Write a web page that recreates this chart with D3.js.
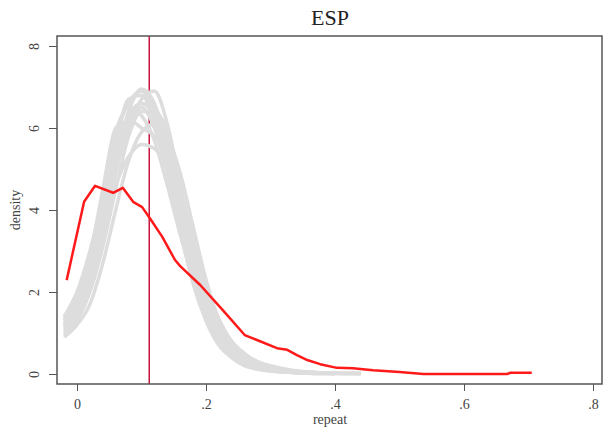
<!DOCTYPE html>
<html>
<head>
<meta charset="utf-8">
<script src="https://cdn.jsdelivr.net/npm/d3@7"></script>
<style>
  body { margin: 0; background: #fff; }
  text { font-family: "Liberation Serif", "DejaVu Serif", serif; }
</style>
</head>
<body>
<svg width="613" height="435"></svg>
<script>
// tick values
var xTicks = [0, 0.2, 0.4, 0.6, 0.8];
var yTicks = [0, 2, 4, 6, 8];

// observed value (vertical line)
var observed = 0.112;

// simulated densities, all read on one x grid
var simX = [-0.02, 0, 0.02, 0.04, 0.06, 0.08, 0.10, 0.12, 0.14, 0.16, 0.18, 0.20, 0.22, 0.24, 0.26, 0.28, 0.30, 0.33, 0.36, 0.40, 0.44];
var sim1 = [1.4, 2.0, 3.0, 4.3, 5.8, 6.6, 6.9, 6.4, 5.2, 3.7, 2.4, 1.4, 0.8, 0.45, 0.25, 0.15, 0.1, 0.05, 0.03, 0.01];
var sim2 = [0.9, 1.2, 1.7, 2.7, 4.0, 5.2, 5.9, 6.1, 5.8, 4.9, 3.6, 2.3, 1.3, 0.7, 0.4, 0.25, 0.15, 0.08, 0.04, 0.02, 0.01];
var sim3 = [1.2, 1.6, 2.4, 3.7, 5.2, 6.4, 6.95, 6.6, 5.5, 4.0, 2.6, 1.5, 0.8, 0.4, 0.2, 0.12, 0.08, 0.04, 0.02];
var sim4 = [1.3, 1.9, 2.9, 4.5, 6.0, 6.2, 6.5, 6.0, 4.9, 3.5, 2.2, 1.3, 0.7, 0.4, 0.22, 0.12, 0.07, 0.04, 0.02, 0.01];
var sim5 = [1.0, 1.4, 2.2, 3.4, 4.6, 5.3, 5.6, 5.5, 5.0, 4.1, 3.0, 2.0, 1.2, 0.7, 0.45, 0.3, 0.2, 0.1, 0.05, 0.02, 0.01];
var sim6 = [1.1, 1.5, 2.5, 3.9, 5.4, 6.3, 6.6, 6.3, 5.5, 4.3, 2.9, 1.8, 1.0, 0.55, 0.3, 0.18, 0.1, 0.05, 0.03, 0.015, 0.01];
var sim7 = [1.25, 1.75, 2.7, 4.1, 5.6, 6.7, 6.8, 6.2, 5.0, 3.9, 2.7, 1.7, 1.0, 0.6, 0.35, 0.2, 0.12, 0.06, 0.03, 0.01];
var sim8 = [0.95, 1.3, 2.0, 3.1, 4.5, 5.8, 6.4, 6.4, 5.9, 4.6, 3.2, 2.0, 1.1, 0.6, 0.35, 0.22, 0.14, 0.08, 0.04, 0.02, 0.01];
var sim9 = [1.15, 1.7, 2.6, 3.8, 5.0, 6.0, 6.7, 6.9, 6.1, 4.6, 3.0, 1.8, 1.0, 0.5, 0.28, 0.16, 0.1, 0.05, 0.02, 0.01];
var sim10 = [1.35, 1.85, 2.8, 4.4, 5.9, 6.5, 6.3, 5.7, 4.6, 3.4, 2.3, 1.4, 0.8, 0.45, 0.25, 0.14, 0.08, 0.04, 0.02];
var sim11 = [1.05, 1.45, 2.3, 3.5, 4.9, 6.1, 6.6, 6.5, 5.7, 4.5, 3.3, 2.2, 1.35, 0.8, 0.5, 0.3, 0.18, 0.09, 0.04, 0.02, 0.01];
var sim12 = [1.2, 1.65, 2.55, 4.0, 5.5, 6.2, 6.0, 5.8, 5.3, 4.2, 2.8, 1.6, 0.9, 0.5, 0.28, 0.17, 0.1, 0.05, 0.02, 0.01];
var sims = [sim1, sim2, sim3, sim4, sim5, sim6, sim7, sim8, sim9, sim10, sim11, sim12];

// observed density
var obsX = [-0.016, 0.011, 0.028, 0.056, 0.071, 0.087, 0.101, 0.113, 0.132, 0.152, 0.16, 0.191, 0.226, 0.26, 0.279, 0.31, 0.326, 0.341, 0.357, 0.377, 0.403, 0.428, 0.459, 0.50, 0.537, 0.60, 0.667, 0.672, 0.705];
var obsY = [2.29, 4.2, 4.59, 4.42, 4.54, 4.2, 4.07, 3.8, 3.35, 2.78, 2.63, 2.17, 1.56, 0.95, 0.83, 0.63, 0.59, 0.46, 0.34, 0.24, 0.15, 0.14, 0.09, 0.05, 0.0, 0.0, 0.0, 0.03, 0.03];

var svg = d3.select("svg");
var box = {left: 57, right: 602, top: 36, bottom: 384};

var x = d3.scaleLinear().domain([0, 0.8]).range([77, 593]);
var y = d3.scaleLinear().domain([0, 8]).range([374, 46]);

function xfmt(d) { return d === 0 ? "0" : d3.format(".1f")(d).replace(/^0/, ""); }

// vertical line first, the grey curves sit over it
svg.append("line")
  .attr("x1", x(observed)).attr("x2", x(observed))
  .attr("y1", box.top).attr("y2", box.bottom)
  .attr("stroke", "#c8143c").attr("stroke-width", 1.5);

var smooth = d3.line()
  .x(function(d) { return x(d[0]); })
  .y(function(d) { return y(d[1]); })
  .curve(d3.curveMonotoneX);

svg.append("g").selectAll("path").data(sims).enter().append("path")
  .attr("d", function(s) { return smooth(s.map(function(v, i) { return [simX[i], v]; })); })
  .attr("fill", "none")
  .attr("stroke", "#dddddd")
  .attr("stroke-width", 3.5);

var straight = d3.line()
  .x(function(d) { return x(d[0]); })
  .y(function(d) { return y(d[1]); });

svg.append("path")
  .attr("d", straight(obsX.map(function(v, i) { return [v, obsY[i]]; })))
  .attr("fill", "none")
  .attr("stroke", "#ff1a1a")
  .attr("stroke-width", 2.5)
  .attr("stroke-linejoin", "round");

// frame
svg.append("rect")
  .attr("x", box.left).attr("y", box.top)
  .attr("width", box.right - box.left).attr("height", box.bottom - box.top)
  .attr("fill", "none").attr("stroke", "#555").attr("stroke-width", 1.5);

// axes
var yAxis = svg.append("g")
  .attr("transform", "translate(" + box.left + ",0)")
  .call(d3.axisLeft(y).tickValues(yTicks).tickSize(8).tickFormat(d3.format("d")));
yAxis.select(".domain").remove();
yAxis.selectAll("line").attr("stroke", "#555");
yAxis.selectAll(".tick text")
  .attr("fill", "#444").attr("font-size", 14)
  .attr("x", 0)
  .attr("text-anchor", "middle")
  .attr("transform", "translate(-23,0) rotate(-90)")
  .attr("dy", "0.35em");

var xAxis = svg.append("g")
  .attr("transform", "translate(0," + box.bottom + ")")
  .call(d3.axisBottom(x).tickValues(xTicks).tickSize(7).tickPadding(8).tickFormat(xfmt));
xAxis.select(".domain").remove();
xAxis.selectAll("line").attr("stroke", "#555");
xAxis.selectAll("text").attr("fill", "#444").attr("font-size", 14);

// titles
svg.append("text")
  .attr("x", 330).attr("y", 25)
  .attr("text-anchor", "middle").attr("font-size", 22).attr("fill", "#222")
  .text("ESP");

svg.append("text")
  .attr("x", 330).attr("y", 424)
  .attr("text-anchor", "middle").attr("font-size", 14).attr("fill", "#444")
  .text("repeat");

svg.append("text")
  .attr("transform", "translate(20,210) rotate(-90)")
  .attr("text-anchor", "middle").attr("font-size", 14).attr("fill", "#444")
  .text("density");
</script>
</body>
</html>
